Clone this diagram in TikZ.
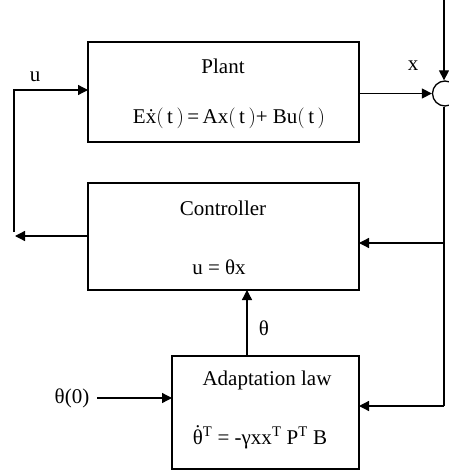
\documentclass[tikz,border=0pt]{standalone}
\usepackage{fontspec}
\setmainfont{Liberation Serif}
\usetikzlibrary{arrows.meta}
\newcommand{\dth}{{\ooalign{θ\cr\hidewidth\raisebox{0.22em}{˙}\hidewidth\cr}}}
\begin{document}
\begin{tikzpicture}[x=1pt,y=-1pt,
  every node/.style={font=\fontsize{21}{24}\selectfont},
  blk/.style={draw,line width=1.3pt,rectangle,inner sep=0pt},
  lbl/.style={inner sep=0pt},
  conn/.style={line width=1.3pt},
  arr/.style={conn,-{Triangle[length=10pt,width=10pt]}}]
\useasboundingbox (0,0) rectangle (448,470);
% blocks
\node[blk,minimum width=271pt,minimum height=100pt] (plant) at (223.5,92) {};
\node[blk,minimum width=271pt,minimum height=107pt] (ctrl) at (223.5,236.5) {};
\node[blk,minimum width=187pt,minimum height=113pt] (adapt) at (265.5,412.5) {};
\node[draw,circle,line width=1.3pt,minimum size=25pt,inner sep=0pt] (sum) at (445,93.5) {};
% texts
\node[lbl] (tplant) at (223,66) {Plant};
\node[lbl] (eplant) at (229,118) {E\.{x}$\Bigl($\,t\,$\Bigr)$\,=\,Ax$\Bigl($\,t\,$\Bigr)$+ Bu$\Bigl($\,t\,$\Bigr)$};
\node[lbl] (tctrl) at (223,208) {Controller};
\node[lbl] (ectrl) at (219,267) {u = θx};
\node[lbl] (tadapt) at (267,380) {Adaptation law};
\node[lbl] (eadapt) at (260,438) {\dth\textsuperscript{T} = -γxx\textsuperscript{T} P\textsuperscript{T} B};
\node[lbl] (lu) at (35,77) {u};
\node[lbl] (lx) at (413,66) {x};
\node[lbl] (lth) at (264,328) {θ};
\node[lbl] (lth0) at (72,398) {θ(0)};
% coordinates
\coordinate (top) at (444,0);
\coordinate (uin) at (88,90);
\coordinate (ucorner) at (14,90);
\coordinate (uend) at (14,232);
\coordinate (cout) at (88,236);
\coordinate (ctip) at (15,236);
\coordinate (pout) at (359,93.5);
\coordinate (bus1) at (444,243);
\coordinate (bus2) at (444,406);
\coordinate (cin) at (359,243);
\coordinate (ain) at (359,406);
\coordinate (atop) at (247,356);
\coordinate (cbot) at (247,290);
\coordinate (t0s) at (97,398);
\coordinate (t0e) at (172,398);
% connectors
\draw[arr] (top) -- (top |- sum.north);
\draw[arr] (pout) -- (sum.west);
\draw[arr] (uend) -- (ucorner) -- (uin);
\draw[arr] (cout) -- (ctip);
\draw[conn] (sum.south -| bus2) -- (bus2);
\draw[arr] (bus1) -- (cin);
\draw[arr] (bus2) -- (ain);
\draw[arr] (atop) -- (cbot);
\draw[arr] (t0s) -- (t0e);
\end{tikzpicture}
\end{document}
